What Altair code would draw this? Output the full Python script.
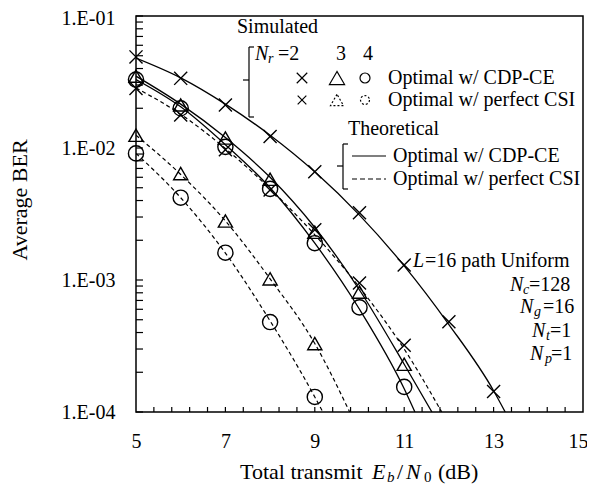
import altair as alt
import pandas as pd

# ---------------- data ----------------
snr_full = [5, 6, 7, 8, 9, 10, 11, 12, 13]
snr_to11 = [5, 6, 7, 8, 9, 10, 11]
snr_to9 = [5, 6, 7, 8, 9]

# simulated points
sim_cdp_nr2 = [0.049, 0.0337, 0.0212, 0.0122, 0.0066, 0.00323, 0.0013, 4.83e-4, 1.43e-4]
sim_cdp_nr3 = [0.035, 0.0212, 0.0119, 0.0058, 0.0023, 8.1e-4, 2.3e-4]
sim_cdp_nr4 = [0.033, 0.0200, 0.0102, 0.0049, 0.0019, 6.2e-4, 1.55e-4]
sim_csi_nr2 = [0.0283, 0.0178, 0.0097, 0.0048, 0.0024, 9.5e-4, 3.2e-4]
sim_csi_nr3 = [0.0125, 0.0064, 0.0028, 0.00102, 3.3e-4]
sim_csi_nr4 = [0.0091, 0.0042, 0.00161, 4.8e-4, 1.3e-4]

# theoretical curves (ending where they leave the plot at 1e-4)
th_cdp_nr2_x = [5, 6, 7, 8, 9, 10, 11, 12, 13, 13.26]
th_cdp_nr2_y = [0.048, 0.034, 0.0215, 0.0125, 0.0066, 0.0031, 0.00128, 4.6e-4, 1.45e-4, 1e-4]
th_cdp_nr3_x = [5, 6, 7, 8, 9, 10, 11, 11.62]
th_cdp_nr3_y = [0.035, 0.0215, 0.012, 0.006, 0.0025, 8.4e-4, 2.3e-4, 1e-4]
th_cdp_nr4_x = [5, 6, 7, 8, 9, 10, 11, 11.24]
th_cdp_nr4_y = [0.033, 0.0205, 0.0106, 0.0050, 0.0019, 6.0e-4, 1.5e-4, 1e-4]
th_csi_nr2_x = [5, 6, 7, 8, 9, 10, 11, 11.84]
th_csi_nr2_y = [0.0285, 0.018, 0.0099, 0.0049, 0.0022, 8.8e-4, 3.0e-4, 1e-4]
th_csi_nr3_x = [5, 6, 7, 8, 9, 9.78]
th_csi_nr3_y = [0.0125, 0.0063, 0.0028, 0.00102, 3.3e-4, 1e-4]
th_csi_nr4_x = [5, 6, 7, 8, 9, 9.18]
th_csi_nr4_y = [0.0091, 0.0042, 0.0016, 4.9e-4, 1.3e-4, 1e-4]

x_tick_labels = [5, 7, 9, 11, 13, 15]
x_minor_ticks = [round(5 + 0.4 * i, 1) for i in range(1, 25)]
y_tick_values = [0.1, 0.01, 0.001, 0.0001]
y_tick_text = ["1.E-01", "1.E-02", "1.E-03", "1.E-04"]
y_minor_ticks = [m * d for d in [1e-4, 1e-3, 1e-2] for m in range(1, 10)] + [0.1]

FONT = "Liberation Serif"
W, H = 447, 396
XPATH = "M-1,-1L1,1M-1,1L1,-1"

xs = alt.Scale(domain=[5, 15], nice=False, zero=False)
ys = alt.Scale(type="log", domain=[1e-4, 1e-1], nice=False)

label_expr = " : ".join(
    f"datum.value > {v * 0.5} ? '{t}'" for v, t in zip(y_tick_values, y_tick_text)
) + " : ''"

X_AXIS = alt.Axis(
    values=x_tick_labels, title=None, ticks=False, tickSize=0, domain=False, grid=False,
    labelFont=FONT, labelFontSize=20, labelColor="black", labelPadding=19,
    labelFlush=False, format="d",
    labelOffset={"expr": f"datum.value == {x_tick_labels[-1]} ? -5 : 0"})
Y_AXIS = alt.Axis(
    values=y_tick_values, title=None, ticks=False, tickSize=0, domain=False, grid=False,
    labelFont=FONT, labelFontSize=20, labelColor="black", labelPadding=21,
    labelFlush=False, labelExpr=label_expr,
    labelOffset={"expr": f"datum.value > {y_tick_values[0] * 0.5} ? 2 : 0"})

# ---------------- tables ----------------
def long(name, xv, yv):
    return [dict(x=a, y=b, series=name) for a, b in zip(xv, yv)]

theo_solid = pd.DataFrame(
    long("c2", th_cdp_nr2_x, th_cdp_nr2_y)
    + long("c3", th_cdp_nr3_x, th_cdp_nr3_y)
    + long("c4", th_cdp_nr4_x, th_cdp_nr4_y)
)
theo_dash = pd.DataFrame(
    long("p2", th_csi_nr2_x, th_csi_nr2_y)
    + long("p3", th_csi_nr3_x, th_csi_nr3_y)
    + long("p4", th_csi_nr4_x, th_csi_nr4_y)
)

def pts(mk, xv, yv):
    return [dict(x=a, y=b, mk=mk) for a, b in zip(xv, yv)]

sim = pd.DataFrame(
    pts("x", snr_full, sim_cdp_nr2)
    + pts("tri", snr_to11, sim_cdp_nr3)
    + pts("circ", snr_to11, sim_cdp_nr4)
    + pts("x", snr_to11, sim_csi_nr2)
    + pts("tri", snr_to9, sim_csi_nr3)
    + pts("circ", snr_to9, sim_csi_nr4)
)

shape_scale = alt.Scale(domain=["x", "tri", "circ"], range=[XPATH, "triangle-up", "circle"])
size_scale = alt.Scale(domain=["x", "tri", "circ"], range=[170, 230, 150])

# ---------------- data layers ----------------
solid = alt.Chart(theo_solid).mark_line(
    color="black", strokeWidth=1.3, interpolate="monotone", clip=True
).encode(
    x=alt.X("x:Q", scale=xs, axis=X_AXIS),
    y=alt.Y("y:Q", scale=ys, axis=Y_AXIS),
    detail="series:N",
)

dashed = alt.Chart(theo_dash).mark_line(
    color="black", strokeWidth=1.2, strokeDash=[4, 3], interpolate="monotone", clip=True
).encode(
    x=alt.X("x:Q", scale=xs, axis=X_AXIS),
    y=alt.Y("y:Q", scale=ys, axis=Y_AXIS),
    detail="series:N",
)

points = alt.Chart(sim).mark_point(
    filled=False, color="black", strokeWidth=1.4, opacity=1
).encode(
    x=alt.X("x:Q", scale=xs, axis=X_AXIS),
    y=alt.Y("y:Q", scale=ys, axis=Y_AXIS),
    shape=alt.Shape("mk:N", scale=shape_scale, legend=None),
    size=alt.Size("mk:N", scale=size_scale, legend=None),
)

yticks = alt.Chart(pd.DataFrame({"y": y_minor_ticks})).mark_rule(
    color="black", strokeWidth=1.2
).encode(
    y=alt.Y("y:Q", scale=ys, axis=Y_AXIS), x=alt.value(0), x2=alt.value(7)
)
xticks = alt.Chart(pd.DataFrame({"x": x_minor_ticks})).mark_rule(
    color="black", strokeWidth=1.2
).encode(
    x=alt.X("x:Q", scale=xs, axis=X_AXIS), y=alt.value(H), y2=alt.value(H - 5)
)

# ---------------- annotations (pixel positions in the plot frame) ----------------
def text_layer(rows, size, style="normal", align="left", angle=0):
    df = pd.DataFrame(rows, columns=["px", "py", "t"])
    return alt.Chart(df).mark_text(
        font=FONT, fontSize=size, fontStyle=style, align=align, baseline="middle",
        color="black", angle=angle
    ).encode(
        x=alt.X("px:Q", scale=None), y=alt.Y("py:Q", scale=None), text="t:N"
    )

roman_rows = [
    (101, 11, "Simulated"),
    (142, 38, "=2"),
    (200, 38, "3"),
    (227, 38, "4"),
    (252, 62, "Optimal w/ CDP-CE"),
    (252, 84, "Optimal w/ perfect CSI"),
    (212, 113, "Theoretical"),
    (257, 140, "Optimal w/ CDP-CE"),
    (257, 163, "Optimal w/ perfect CSI"),
    (289, 245, "=16 path Uniform"),
    (393, 269, "=128"),
    (407, 291, "=16"),
    (414, 315, "=1"),
    (415, 338, "=1"),
]
italic_rows = [
    (119, 38, "N"),
    (277, 245, "L"),
    (374, 269, "N"),
    (384, 291, "N"),
    (396, 315, "N"),
    (394, 338, "N"),
]
sub_rows = [
    (132, 43, "r"),
    (387, 274, "c"),
    (398, 296, "g"),
    (410, 320, "t"),
    (409, 343, "p"),
]

title_roman = [(104, 456, "Total transmit"), (261, 456, "/"), (302, 456, "(dB)")]
title_italic = [(236, 456, "E"), (270, 456, "N")]
title_sub_it = [(251, 461, "b")]
title_sub_rm = [(288, 461, "0")]

ytitle = text_layer([(-116, 184, "Average BER")], 22, align="center", angle=270)

# legend markers
leg_solid = pd.DataFrame({
    "px": [166, 201, 229],
    "py": [62, 62, 62],
    "shp": [XPATH, "triangle-up", "circle"],
    "sz": [110, 230, 100],
})
leg_dash = pd.DataFrame({
    "px": [201, 229],
    "py": [84, 84],
    "shp": ["triangle-up", "circle"],
    "sz": [170, 80],
})
leg_x2 = pd.DataFrame({"px": [166], "py": [84], "shp": [XPATH], "sz": [75]})

def marker_layer(df, dash=None):
    kw = dict(filled=False, color="black", strokeWidth=1.2, opacity=1)
    if dash:
        kw["strokeDash"] = dash
    return alt.Chart(df).mark_point(**kw).encode(
        x=alt.X("px:Q", scale=None), y=alt.Y("py:Q", scale=None),
        shape=alt.Shape("shp:N", scale=None), size=alt.Size("sz:Q", scale=None),
    )

# brackets and line samples
br = pd.DataFrame(
    [
        (113, 31, 113, 101), (113, 31, 118, 31), (113, 101, 118, 101), (107, 64, 113, 64),
        (207, 128, 207, 173), (207, 128, 212, 128), (207, 173, 212, 173), (201, 150, 207, 150),
        (216, 140, 250, 140),
    ],
    columns=["px", "py", "px2", "py2"],
)
br_dash = pd.DataFrame([(216, 163, 250, 163)], columns=["px", "py", "px2", "py2"])

def rule_layer(df, dash=None):
    kw = dict(color="black", strokeWidth=1.2)
    if dash:
        kw["strokeDash"] = dash
    return alt.Chart(df).mark_rule(**kw).encode(
        x=alt.X("px:Q", scale=None), y=alt.Y("py:Q", scale=None),
        x2="px2:Q", y2="py2:Q",
    )

chart = alt.layer(
    solid, dashed, points, yticks, xticks,
    text_layer(roman_rows, 20),
    text_layer(italic_rows, 20, style="italic"),
    text_layer(sub_rows, 14, style="italic"),
    text_layer(title_roman, 22),
    text_layer(title_italic, 22, style="italic"),
    text_layer(title_sub_it, 15, style="italic"),
    text_layer(title_sub_rm, 15),
    ytitle,
    marker_layer(leg_solid),
    marker_layer(leg_dash, [2, 2]),
    marker_layer(leg_x2),
    rule_layer(br),
    rule_layer(br_dash, [5, 3]),
).properties(
    width=W, height=H,
    padding={"left": 128, "top": 8, "right": 4, "bottom": 72},
    autosize=alt.AutoSizeParams(type="none"),
    background="white",
).configure_view(stroke="black", strokeWidth=1.5)

chart.save("out.html", embed_options={"renderer": "svg", "actions": False})
